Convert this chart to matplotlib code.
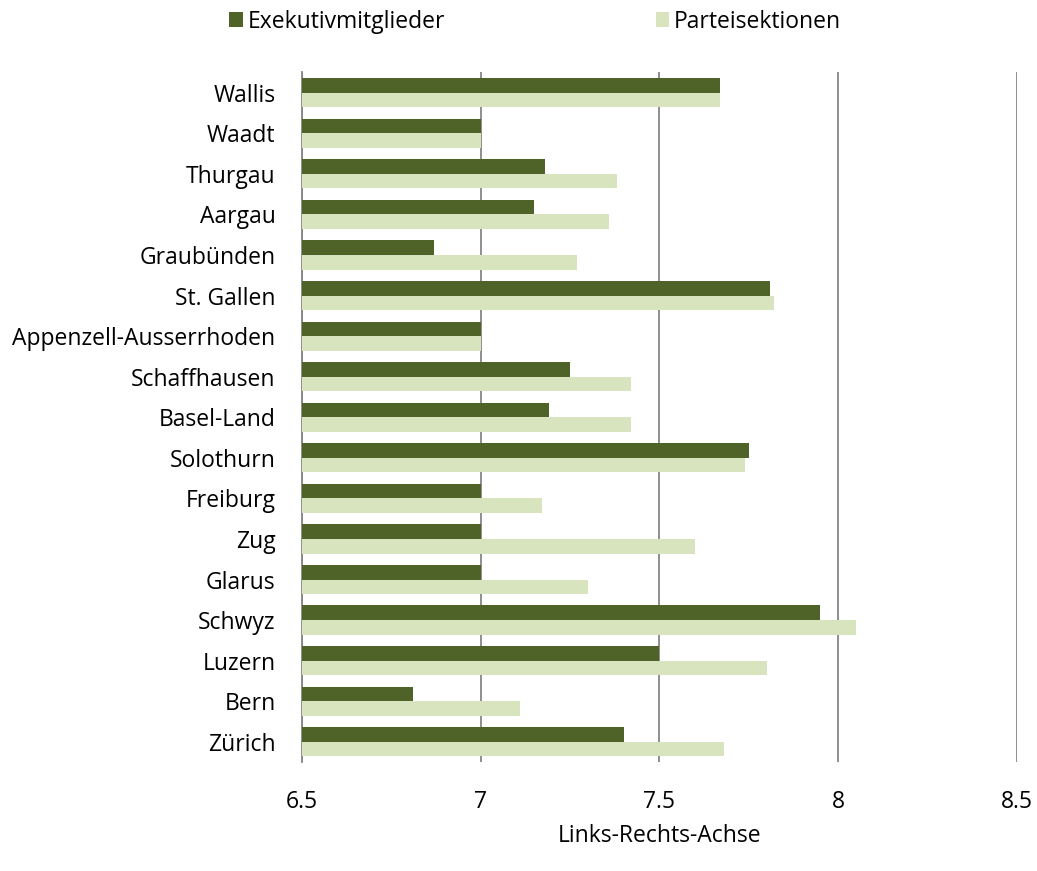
import matplotlib
matplotlib.use('Agg')
import matplotlib.pyplot as plt
import numpy as np

# Kantone (von unten nach oben)
kantone = ['Zürich', 'Bern', 'Luzern', 'Schwyz', 'Glarus', 'Zug', 'Freiburg',
           'Solothurn', 'Basel-Land', 'Schaffhausen', 'Appenzell-Ausserrhoden',
           'St. Gallen', 'Graubünden', 'Aargau', 'Thurgau', 'Waadt', 'Wallis']
exekutiv = [7.40, 6.81, 7.50, 7.95, 7.00, 7.00, 7.00,
            7.75, 7.19, 7.25, 7.00,
            7.81, 6.87, 7.15, 7.18, 7.00, 7.67]
sektionen = [7.68, 7.11, 7.80, 8.05, 7.30, 7.60, 7.17,
             7.74, 7.42, 7.42, 7.00,
             7.82, 7.27, 7.36, 7.38, 7.00, 7.67]
xticks = [6.5, 7, 7.5, 8, 8.5]
xticklabels = ['6.5', '7', '7.5', '8', '8.5']

plt.rcParams['font.family'] = ['Open Sans', 'DejaVu Sans']
fs = 16.5

fig = plt.figure(figsize=(10.37, 8.71), dpi=100)
ax = fig.add_axes([0.2912, 0.1251, 0.6895, 0.7917])

y = np.arange(len(kantone))
h = 0.36
basis = 6.5
ax.barh(y + h / 2, np.array(exekutiv) - basis, height=h, left=basis,
        color='#4F6228', label='Exekutivmitglieder', zorder=3)
ax.barh(y - h / 2, np.array(sektionen) - basis, height=h, left=basis,
        color='#D7E4BD', label='Parteisektionen', zorder=3)

ax.set_xlim(6.5, 8.5)
ax.set_ylim(-0.5, len(kantone) - 0.5)
ax.set_xticks(xticks)
ax.set_xticklabels(xticklabels)
ax.set_yticks(y)
ax.set_yticklabels(kantone)
ax.tick_params(axis='both', length=0, labelsize=fs, labelcolor='black')
ax.tick_params(axis='x', pad=20)
ax.tick_params(axis='y', pad=19)

ax.grid(axis='x', color='#868686', linewidth=1.3, zorder=0)
ax.set_axisbelow(True)
for s in ['top', 'right', 'bottom']:
    ax.spines[s].set_visible(False)
ax.spines['left'].set_color('#868686')
ax.spines['left'].set_linewidth(1.3)

ax.set_xlabel('Links-Rechts-Achse', fontsize=fs, labelpad=7)

leg = fig.legend(loc='center', bbox_to_anchor=(0.516, 0.975), ncol=2,
                 frameon=False, fontsize=fs, handlelength=0.6, handleheight=0.6,
                 handletextpad=0.2, columnspacing=9.2, borderpad=0)

fig.savefig('out.png', dpi=100)
